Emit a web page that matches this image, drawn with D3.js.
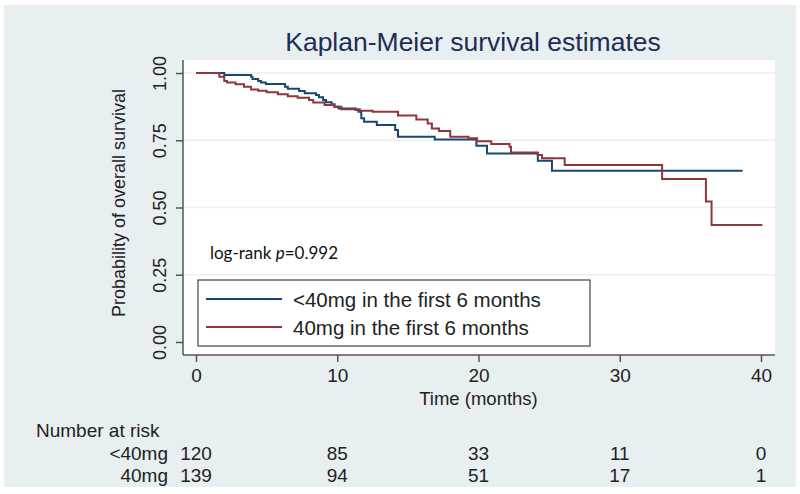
<!DOCTYPE html>
<html><head><meta charset="utf-8">
<script src="https://cdn.jsdelivr.net/npm/d3@7"></script>
<style>html,body{margin:0;padding:0;background:#fff}svg{display:block}</style>
</head><body>
<svg id="c" width="800" height="494"></svg>
<script>
// ---- data ----
const timesLow = [0, 2.0, 3.9, 4.0, 4.4, 4.6, 4.95, 6.3, 6.5, 7.3, 7.7, 8.5, 8.7, 9.0, 9.2, 9.6, 9.8, 10.1, 11.3, 11.5, 11.7, 11.9, 12.8, 14.1, 14.3, 16.9, 19.85, 20.6, 24.2, 25.2];
const survLow  = [1.0, 0.993, 0.986, 0.978, 0.970, 0.965, 0.959, 0.949, 0.941, 0.933, 0.925, 0.918, 0.910, 0.900, 0.891, 0.884, 0.875, 0.868, 0.862, 0.856, 0.832, 0.819, 0.807, 0.788, 0.763, 0.753, 0.730, 0.701, 0.674, 0.637];
const endLow = 38.7;
const timesHigh = [0, 1.65, 2.0, 2.2, 2.8, 3.4, 3.9, 4.4, 5.0, 5.8, 6.5, 7.2, 8.0, 8.3, 9.1, 9.8, 10.3, 11.6, 12.5, 14.3, 15.6, 16.4, 16.7, 17.2, 18.0, 19.3, 19.9, 20.9, 22.2, 22.3, 24.2, 24.5, 26.1, 33.0, 36.1, 36.5];
const survHigh  = [1.0, 0.986, 0.970, 0.965, 0.958, 0.949, 0.939, 0.934, 0.928, 0.921, 0.914, 0.908, 0.900, 0.890, 0.881, 0.875, 0.865, 0.860, 0.856, 0.842, 0.827, 0.812, 0.794, 0.784, 0.763, 0.757, 0.746, 0.736, 0.726, 0.704, 0.695, 0.683, 0.658, 0.606, 0.522, 0.435];
const endHigh = 40.1;
const xTicks = [0, 10, 20, 30, 40];
const yTicks = [0, 0.25, 0.5, 0.75, 1];
const seriesNames = ["<40mg in the first 6 months", "40mg in the first 6 months"];
const riskGroups = ["<40mg", "40mg"];
const riskLow = [120, 85, 33, 11, 0];
const riskHigh = [139, 94, 51, 17, 1];

// ---- drawing ----
const svg = d3.select("#c");
const font = "'Liberation Sans', Arial, sans-serif";
const bg = "#e8eff1";
const colLow = "#1a476f", colHigh = "#90353b";
const L = 183, R = 775, T = 60, B = 355;
const x = d3.scaleLinear().domain([0, 40]).range([196, 761]);
const y = d3.scaleLinear().domain([0, 1]).range([342, 73]);

svg.append("rect").attr("x", 4).attr("y", 5).attr("width", 792).attr("height", 482).attr("fill", bg);
svg.append("rect").attr("x", L).attr("y", T).attr("width", R - L).attr("height", B - T).attr("fill", "#fff");

// gridlines
svg.append("g").selectAll("line").data(yTicks.filter(d => d > 0)).join("line")
  .attr("x1", L).attr("x2", R).attr("y1", d => y(d)).attr("y2", d => y(d))
  .attr("stroke", bg).attr("stroke-width", 1.5);

// axes
const yAxis = d3.axisLeft(y).tickValues(yTicks).tickFormat(d3.format(".2f")).tickSize(7).tickSizeOuter(0);
const gy = svg.append("g").attr("transform", `translate(${L},0)`).call(yAxis);
gy.select(".domain").remove();
gy.append("line").attr("x1", 0).attr("x2", 0).attr("y1", T).attr("y2", B).attr("stroke", "#555").attr("stroke-width", 1.5);
gy.selectAll(".tick line").attr("stroke", "#555").attr("stroke-width", 1.5);
gy.selectAll(".tick text").attr("x", null).attr("dy", null)
  .attr("font-family", font).attr("font-size", 18).attr("fill", "#222")
  .attr("text-anchor", "middle")
  .attr("transform", "translate(-17,0) rotate(-90)")
  .attr("y", 0);

const xAxis = d3.axisBottom(x).tickValues(xTicks).tickSize(7).tickSizeOuter(0);
const gx = svg.append("g").attr("transform", `translate(0,${B})`).call(xAxis);
gx.select(".domain").remove();
gx.append("line").attr("x1", L).attr("x2", R).attr("y1", 0).attr("y2", 0).attr("stroke", "#555").attr("stroke-width", 1.5);
gx.selectAll(".tick line").attr("stroke", "#555").attr("stroke-width", 1.5);
gx.selectAll(".tick text").attr("font-family", font).attr("font-size", 19).attr("fill", "#222")
  .attr("y", 14).attr("dy", "0.71em");

// titles
svg.append("text").attr("x", 473).attr("y", 51).attr("text-anchor", "middle")
  .attr("font-family", font).attr("font-size", 26.5).attr("fill", "#1e2d53").text("Kaplan-Meier survival estimates");
svg.append("text").attr("transform", "translate(125,203) rotate(-90)").attr("text-anchor", "middle")
  .attr("font-family", font).attr("font-size", 18).attr("fill", "#222").text("Probability of overall survival");
svg.append("text").attr("x", x(20)).attr("y", 405).attr("text-anchor", "middle")
  .attr("font-family", font).attr("font-size", 18.5).attr("fill", "#222").text("Time (months)");

// curves
function stepPts(ts, ss, end) {
  const pts = ts.map((t, i) => [t, ss[i]]);
  pts.push([end, ss[ss.length - 1]]);
  return pts;
}
const line = d3.line().x(d => x(d[0])).y(d => y(d[1])).curve(d3.curveStepAfter);
svg.append("path").datum(stepPts(timesLow, survLow, endLow)).attr("d", line)
  .attr("fill", "none").attr("stroke", colLow).attr("stroke-width", 2);
svg.append("path").datum(stepPts(timesHigh, survHigh, endHigh)).attr("d", line)
  .attr("fill", "none").attr("stroke", colHigh).attr("stroke-width", 2);

// log-rank
const lr = svg.append("text").attr("x", 210).attr("y", 259)
  .attr("font-family", "Lato, 'Open Sans', sans-serif").attr("font-size", 17).attr("fill", "#111");
lr.append("tspan").text("log-rank ");
lr.append("tspan").attr("font-style", "italic").text("p");
lr.append("tspan").text("=0.992");

// legend
const lg = svg.append("g");
lg.append("rect").attr("x", 198).attr("y", 280).attr("width", 392).attr("height", 66)
  .attr("fill", "#fff").attr("stroke", "#444").attr("stroke-width", 1.2);
[colLow, colHigh].forEach((c, i) => {
  const yy = 299 + i * 28;
  lg.append("line").attr("x1", 206).attr("x2", 282).attr("y1", yy).attr("y2", yy).attr("stroke", c).attr("stroke-width", 2);
  lg.append("text").attr("x", 293).attr("y", yy + 7.5).attr("font-family", font).attr("font-size", 20.5)
    .attr("fill", "#222").text(seriesNames[i]);
});

// number at risk
svg.append("text").attr("x", 36).attr("y", 437).attr("font-family", font).attr("font-size", 19).attr("fill", "#222").text("Number at risk");
[riskLow, riskHigh].forEach((arr, i) => {
  const yy = 460 + i * 22;
  svg.append("text").attr("x", 168).attr("y", yy).attr("text-anchor", "end")
    .attr("font-family", font).attr("font-size", 19).attr("fill", "#222").text(riskGroups[i]);
  svg.append("g").selectAll("text").data(arr).join("text")
    .attr("x", (d, j) => x(xTicks[j])).attr("y", yy).attr("text-anchor", "middle")
    .attr("font-family", font).attr("font-size", 19).attr("fill", "#222").text(d => d);
});
</script>
</body></html>
